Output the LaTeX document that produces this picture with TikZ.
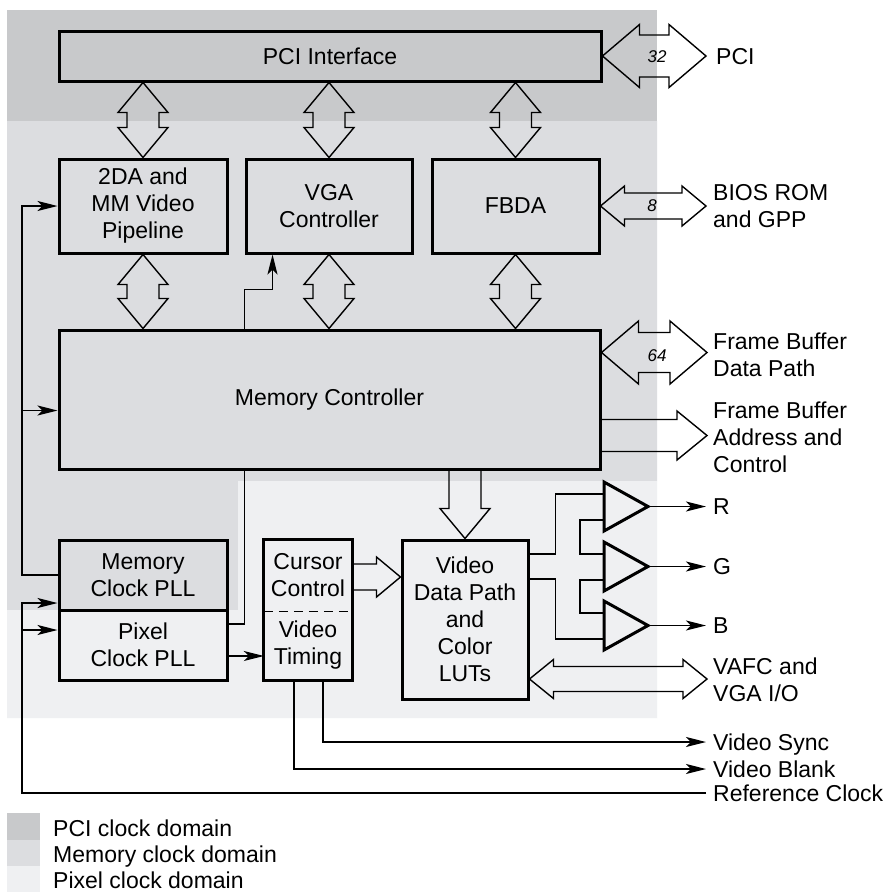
\documentclass[tikz,border=0pt]{standalone}
\usepackage{fontspec}
\setmainfont{Liberation Sans}
\usetikzlibrary{calc,arrows.meta}
\definecolor{pcidom}{HTML}{C8C9CB}
\definecolor{memdom}{HTML}{DCDDE0}
\definecolor{pixdom}{HTML}{EFF0F2}
\tikzset{
  blk/.style={draw, line width=3pt, inner sep=0pt, align=center, font=\fontsize{23}{27}\selectfont},
  txt/.style={inner sep=0pt, align=center, font=\fontsize{23}{27}\selectfont},
  lbl/.style={anchor=west, inner sep=0pt, align=left, font=\fontsize{23}{27}\selectfont},
  blbl/.style={anchor=base west, inner sep=0pt, font=\fontsize{23}{27}\selectfont},
  num/.style={inner sep=0pt, font=\fontsize{17}{20}\selectfont\itshape},
  wire/.style={line width=1.4pt},
  arr/.style={wire, -{Stealth[length=20pt,width=10pt,inset=5pt]}},
  hollow/.style={line width=1.4pt, line join=miter, miter limit=10},
  amp/.style={line width=3pt, line join=miter, miter limit=10},
}
% hollow double arrow, horizontal: left point, right point, head length, head half width, shaft half width
\newcommand\hollowHD[5]{%
  \draw[hollow] let \p1=#1, \p2=#2 in
   (\x1,\y1) -- (\x1+#3pt,\y1+#4pt) -- (\x1+#3pt,\y1+#5pt) -- (\x2-#3pt,\y1+#5pt) -- (\x2-#3pt,\y1+#4pt)
   -- (\x2,\y1) -- (\x2-#3pt,\y1-#4pt) -- (\x2-#3pt,\y1-#5pt) -- (\x1+#3pt,\y1-#5pt) -- (\x1+#3pt,\y1-#4pt) -- cycle;}
% hollow double arrow, vertical: top point, bottom point
\newcommand\hollowVD[5]{%
  \draw[hollow] let \p1=#1, \p2=#2 in
   (\x1,\y1) -- (\x1+#4pt,\y1-#3pt) -- (\x1+#5pt,\y1-#3pt) -- (\x1+#5pt,\y2+#3pt) -- (\x1+#4pt,\y2+#3pt)
   -- (\x1,\y2) -- (\x1-#4pt,\y2+#3pt) -- (\x1-#5pt,\y2+#3pt) -- (\x1-#5pt,\y1-#3pt) -- (\x1-#4pt,\y1-#3pt) -- cycle;}
% hollow single arrow to the right: start, tip
\newcommand\hollowHS[5]{%
  \draw[hollow] let \p1=#1, \p2=#2 in
   (\x1,\y1+#5pt) -- (\x2-#3pt,\y1+#5pt) -- (\x2-#3pt,\y1+#4pt) -- (\x2,\y1)
   -- (\x2-#3pt,\y1-#4pt) -- (\x2-#3pt,\y1-#5pt) -- (\x1,\y1-#5pt);}
% hollow single arrow downwards: start (top), tip (bottom)
\newcommand\hollowVS[5]{%
  \draw[hollow] let \p1=#1, \p2=#2 in
   (\x1-#5pt,\y1) -- (\x1-#5pt,\y2+#3pt) -- (\x1-#4pt,\y2+#3pt) -- (\x1,\y2)
   -- (\x1+#4pt,\y2+#3pt) -- (\x1+#5pt,\y2+#3pt) -- (\x1+#5pt,\y1);}
\begin{document}
\begin{tikzpicture}[x=1pt,y=-1pt]
\useasboundingbox (0,0) rectangle (888,892);
\fill[white] (0,0) rectangle (888,892);
% clock domains
\fill[pcidom] (7,10) rectangle (657,121);
\fill[memdom] (7,121) -- (657,121) -- (657,481) -- (238,481) -- (238,610) -- (7,610) -- cycle;
\fill[pixdom] (238,481) -- (657,481) -- (657,718) -- (7,718) -- (7,610) -- (238,610) -- cycle;
% blocks
\node[blk, minimum width=542pt, minimum height=50pt] (pci) at (330,56) {PCI Interface};
\node[blk, minimum width=168pt, minimum height=94pt] (b2da) at (143,206) {2DA and\\MM Video\\Pipeline};
\node[blk, minimum width=166pt, minimum height=94pt] (vga) at (329,206) {VGA\\Controller};
\node[blk, minimum width=167pt, minimum height=94pt] (fbda) at (515.5,206) {FBDA};
\node[blk, minimum width=541pt, minimum height=139pt] (memc) at (329.5,399.5) {Memory Controller};
\node[blk, minimum width=168pt, minimum height=70pt] (mpll) at (143,575) {Memory\\Clock PLL};
\node[blk, minimum width=168pt, minimum height=70pt] (ppll) at (143,645) {Pixel\\Clock PLL};
\node[txt, minimum width=88pt, minimum height=71pt] (cur) at (308,575.5) {Cursor\\Control};
\node[txt, minimum width=88pt, minimum height=69pt] (vt) at (308,645.5) {Video\\Timing};
\draw[line width=3pt] (cur.north west) rectangle (vt.south east);
\draw[line width=1.4pt, dash pattern=on 9pt off 6pt] (cur.south west) -- (cur.south east);
\node[blk, minimum width=126pt, minimum height=159pt] (vdp) at (465,619.5) {Video\\Data Path\\and\\Color\\LUTs};
% hollow buses
\hollowVD{(pci.south -| b2da.north)}{(b2da.north)}{30}{25}{16}
\hollowVD{(pci.south -| vga.north)}{(vga.north)}{30}{25}{16}
\hollowVD{(pci.south -| fbda.north)}{(fbda.north)}{30}{25}{16}
\hollowVD{(b2da.south)}{(memc.north -| b2da.south)}{30}{25}{16}
\hollowVD{(vga.south)}{(memc.north -| vga.south)}{30}{25}{16}
\hollowVD{(fbda.south)}{(memc.north -| fbda.south)}{30}{25}{16}
\hollowVS{(memc.south -| vdp.north)}{(vdp.north)}{30}{25}{16}
\hollowHS{([yshift=-1.5pt]cur.east)}{([yshift=-1.5pt]cur.east -| vdp.west)}{24}{20}{13}
% external buses
\coordinate (pcix) at (706,56);
\coordinate (biosx) at (706,206);
\coordinate (fbdx) at (707,354);
\coordinate (fbax) at (707,437);
\coordinate (vafcx) at (707,679);
\hollowHD{(pci.east)}{(pcix)}{37}{31.5}{21}
\hollowHD{(fbda.east)}{(biosx)}{24}{20}{13}
\hollowHD{([yshift=-24pt]memc.north east)}{(fbdx)}{37}{31.5}{20}
\hollowHS{([yshift=-107pt]memc.north east)}{(fbax)}{30}{24.5}{16}
\hollowHD{([yshift=-59.5pt]vdp.east)}{(vafcx)}{24}{19.5}{12.5}
\node[num] (n32) at (657,57) {32};
\node[num] (n8) at (652,206) {8};
\node[num] (n64) at (657,356) {64};
% amplifiers
\foreach \n/\t in {R/482,G/542,B/601}{
  \draw[amp] (604,\t) -- (648,\t+24.5) -- (604,\t+49) -- cycle;
  \coordinate (\n-a) at (604,\t+12);
  \coordinate (\n-b) at (604,\t+38);
  \coordinate (\n-o) at (648,\t+24.5);
  \coordinate (\n-end) at (706,\t+24.5);
  \draw[arr] (\n-o) -- (\n-end);
  \node[lbl] (\n-lbl) at (713,\t+24.5) {\n};
}
\draw[wire] ([yshift=65.5pt]vdp.east) -- ++(26,0) |- (R-a);
\draw[wire] ([yshift=40.5pt]vdp.east) -- ++(26,0) |- (B-b);
\draw[wire] (R-b) -- ++(-24,0) |- (G-a);
\draw[wire] (G-b) -- ++(-24,0) |- (B-a);
% clocks
\coordinate (mclk) at (22,575);
\draw[arr] (mpll.west) -- (mclk) |- (b2da.west);
\draw[arr] ([yshift=-11pt]memc.west -| mclk) -- ([yshift=-11pt]memc.west);
\coordinate (refend) at (706,793);
\coordinate (refc) at (22,793);
\draw[arr] (refend) -- (refc) |- ([yshift=-28pt]mpll.west);
\draw[arr] ([yshift=15pt]ppll.west -| refc) -- ([yshift=15pt]ppll.west);
\draw[arr] ([yshift=-11pt]ppll.east) -- ([yshift=-11pt]ppll.east -| vt.west);
\draw[wire] ([yshift=21pt]ppll.east) -| ([xshift=187pt]memc.south west);
\draw[arr] ([xshift=187pt]memc.north west) -- ++(0,-39) -| ([xshift=28pt]vga.south west);
% video timing outputs
\coordinate (vsync) at (706,742);
\coordinate (vblank) at (706,769);
\draw[arr] ([xshift=59pt]vt.south west) |- (vsync);
\draw[arr] ([xshift=30pt]vt.south west) |- (vblank);
% external labels
\node[lbl] (pcil) at (716,57) {PCI};
\node[lbl] (biosl) at (713,206) {BIOS ROM\\and GPP};
\node[lbl] (fbdl) at (713,355) {Frame Buffer\\Data Path};
\node[lbl] (fbal) at (713,437) {Frame Buffer\\Address and\\Control};
\node[lbl] (vafcl) at (713,680) {VAFC and\\VGA I/O};
\node[blbl] (vsl) at (713,750) {Video Sync};
\node[blbl] (vbl) at (713,777) {Video Blank};
\node[blbl] (rcl) at (713,801) {Reference Clock};
% legend
\fill[pcidom] (7,813) rectangle (40,840);
\fill[memdom] (7,840) rectangle (40,866);
\fill[pixdom] (7,866) rectangle (40,892);
\node[blbl] (lg1) at (53,836) {PCI clock domain};
\node[blbl] (lg2) at (53,862) {Memory clock domain};
\node[blbl] (lg3) at (53,888) {Pixel clock domain};
\end{tikzpicture}
\end{document}
